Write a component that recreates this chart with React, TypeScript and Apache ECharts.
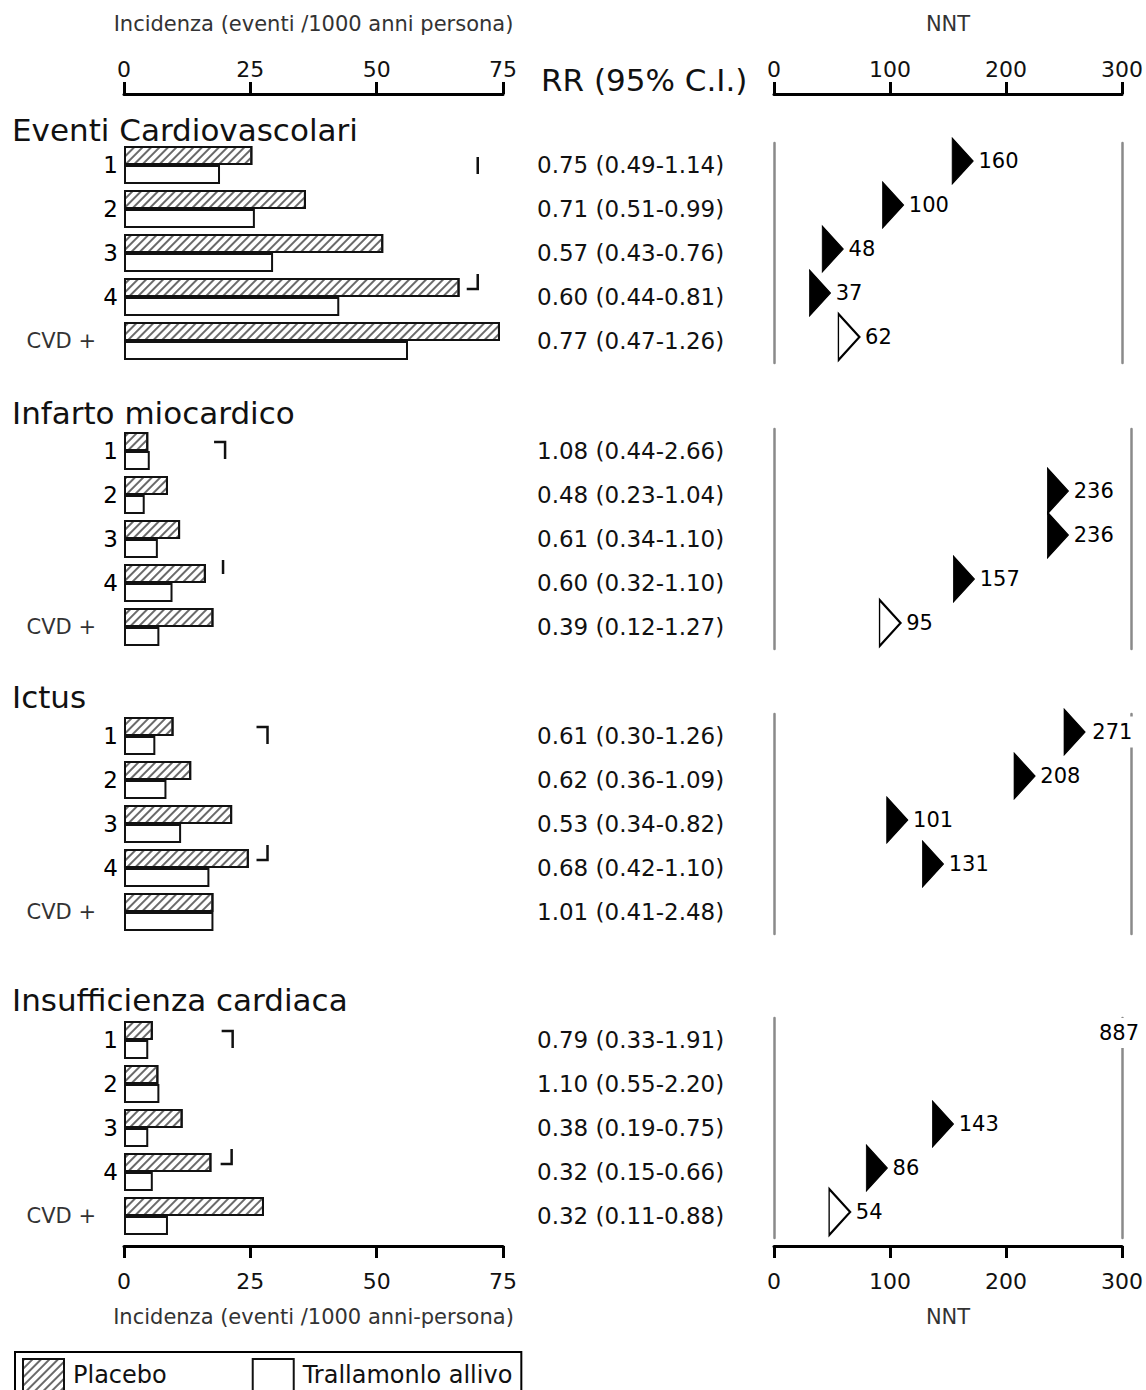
import React, { useEffect, useRef } from 'react';
import * as echarts from 'echarts';

const FONT = '"DejaVu Sans", Arial, sans-serif';

// ---------- data ----------
const groupTitles = ['Eventi Cardiovascolari', 'Infarto miocardico', 'Ictus', 'Insufficienza cardiaca'];
const rowLabels = ['1', '2', '3', '4', 'CVD +'];
const legendNames = ['Placebo', 'Trallamonlo allivo'];

const placeboCV = [25.4, 36.0, 51.3, 66.4, 74.4];
const placeboMI = [4.8, 8.7, 11.1, 16.2, 17.7];
const placeboStroke = [9.8, 13.3, 21.4, 24.7, 17.7];
const placeboHF = [5.7, 6.8, 11.6, 17.3, 27.7];

const activeCV = [19.0, 25.9, 29.5, 42.6, 56.2];
const activeMI = [5.1, 4.1, 6.7, 9.6, 7.0];
const activeStroke = [6.2, 8.4, 11.3, 16.9, 17.7];
const activeHF = [4.8, 7.0, 4.8, 5.7, 8.7];

const rrCV = ['0.75 (0.49-1.14)', '0.71 (0.51-0.99)', '0.57 (0.43-0.76)', '0.60 (0.44-0.81)', '0.77 (0.47-1.26)'];
const rrMI = ['1.08 (0.44-2.66)', '0.48 (0.23-1.04)', '0.61 (0.34-1.10)', '0.60 (0.32-1.10)', '0.39 (0.12-1.27)'];
const rrStroke = ['0.61 (0.30-1.26)', '0.62 (0.36-1.09)', '0.53 (0.34-0.82)', '0.68 (0.42-1.10)', '1.01 (0.41-2.48)'];
const rrHF = ['0.79 (0.33-1.91)', '1.10 (0.55-2.20)', '0.38 (0.19-0.75)', '0.32 (0.15-0.66)', '0.32 (0.11-0.88)'];

const nntCV = [160, 100, 48, 37, 62];
const nntMI = [null, 236, 236, 157, 95];
const nntStroke = [271, 208, 101, 131, null];
const nntHF = [887, null, 143, 86, 54];

// stray bracket marks visible in the figure: [group, row, incidence x, kind]
const strayMarks: [number, number, number, string][] = [
  [0, 0, 70, 'tick'],
  [0, 3, 70, 'cornerLow'],
  [1, 0, 20, 'cornerTop'],
  [1, 3, 19.6, 'tickHigh'],
  [2, 0, 28.4, 'cornerTop'],
  [2, 3, 28.4, 'cornerLow'],
  [3, 0, 21.5, 'cornerTop'],
  [3, 3, 21.3, 'cornerLow'],
];

const incidenceTicks = [0, 25, 50, 75];
const nntTicks = [0, 100, 200, 300];

const placebo = [placeboCV, placeboMI, placeboStroke, placeboHF];
const active = [activeCV, activeMI, activeStroke, activeHF];
const rr = [rrCV, rrMI, rrStroke, rrHF];
const nnt = [nntCV, nntMI, nntStroke, nntHF];

// ---------- layout ----------
const W = 1146;
const H = 1390;
const LEFT_X = 124;
const LEFT_W = 379;
const RIGHT_X = 774;
const RIGHT_W = 357;
const RR_X = 537;
const groupTop = [143, 429, 714, 1018];
const ROW_H = 44;
const GRID_H = ROW_H * 5;
const titleY = [130, 413, 697, 1000];
const NNT_PLOT_CAP = 250;

function buildOption() {
  const grids: any[] = [];
  const xAxes: any[] = [];
  const yAxes: any[] = [];
  const series: any[] = [];
  const graphic: any[] = [];

  const nntMax = nntTicks[nntTicks.length - 1];

  const xAxisFor = (gridIndex: number, ticks: number[], g: number, topName: string, bottomName: string) => {
    const isTop = g === 0;
    const isBottom = g === groupTitles.length - 1;
    return {
      type: 'value',
      gridIndex,
      min: ticks[0],
      max: ticks[ticks.length - 1],
      interval: ticks[1] - ticks[0],
      show: isTop || isBottom,
      position: isTop ? 'top' : 'bottom',
      offset: isTop ? 49 : 8,
      axisLine: { show: true, onZero: false, lineStyle: { color: '#000', width: 3 } },
      axisTick: { show: true, length: 12, inside: false, lineStyle: { color: '#000', width: 3 } },
      axisLabel: { show: true, margin: isTop ? 14 : 24, fontFamily: FONT, fontSize: 22, color: '#111' },
      splitLine: { show: false },
      name: isTop ? topName : bottomName,
      nameLocation: 'middle',
      nameGap: 60,
      nameTextStyle: { fontFamily: FONT, fontSize: 21, color: '#333' },
    };
  };

  groupTitles.forEach((_, g) => {
    grids.push({ left: LEFT_X, width: LEFT_W, top: groupTop[g], height: GRID_H });
  });
  groupTitles.forEach((_, g) => {
    grids.push({ left: RIGHT_X, width: RIGHT_W, top: groupTop[g], height: GRID_H });
  });

  groupTitles.forEach((_, g) => {
    xAxes[g] = xAxisFor(g, incidenceTicks, g,
      'Incidenza (eventi /1000 anni persona)', 'Incidenza (eventi /1000 anni-persona)');
    xAxes[4 + g] = xAxisFor(4 + g, nntTicks, g, 'NNT', 'NNT');

    yAxes[g] = {
      type: 'category',
      gridIndex: g,
      data: rowLabels,
      inverse: true,
      axisLine: { show: false },
      axisTick: { show: false },
      axisLabel: {
        margin: 6,
        fontFamily: FONT,
        fontSize: 23,
        color: '#000',
        formatter: (v: string) => (v === 'CVD +' ? '{c|CVD +}' : v),
        rich: { c: { fontFamily: FONT, fontSize: 21, color: '#333', padding: [0, 22, 0, 0] } },
      },
    };
    yAxes[4 + g] = {
      type: 'category',
      gridIndex: 4 + g,
      data: rr[g],
      inverse: true,
      position: 'left',
      axisLine: { show: true, lineStyle: { color: '#8a8a8a', width: 2.5 } },
      axisTick: { show: false },
      axisLabel: { margin: RIGHT_X - RR_X, align: 'left', fontFamily: FONT, fontSize: 23, color: '#111' },
    };
    yAxes[8 + g] = {
      type: 'category',
      gridIndex: 4 + g,
      data: rr[g],
      inverse: true,
      position: 'right',
      axisLine: { show: true, lineStyle: { color: '#8a8a8a', width: 2.5 } },
      axisTick: { show: false },
      axisLabel: { show: false },
    };

    series.push({
      type: 'bar',
      name: legendNames[0],
      xAxisIndex: g,
      yAxisIndex: g,
      data: placebo[g],
      barWidth: 19,
      barGap: '0%',
      itemStyle: {
        color: '#fff',
        borderColor: '#111',
        borderWidth: 2,
        decal: {
          symbol: 'rect',
          symbolSize: 1,
          dashArrayX: [1, 0],
          dashArrayY: [1.5, 3.5],
          rotation: -Math.PI / 4,
          color: '#6a6a6a',
        },
      },
    });
    series.push({
      type: 'bar',
      name: legendNames[1],
      xAxisIndex: g,
      yAxisIndex: g,
      data: active[g],
      barWidth: 19,
      barGap: '0%',
      itemStyle: { color: '#fff', borderColor: '#111', borderWidth: 2 },
    });

    const marks = strayMarks.filter((m) => m[0] === g);
    series.push({
      type: 'custom',
      xAxisIndex: g,
      yAxisIndex: g,
      silent: true,
      data: marks.map((m) => [m[2], m[1]]),
      renderItem: (params: any, api: any) => {
        const p = api.coord([api.value(0), api.value(1)]);
        const kind = marks[params.dataIndex][3];
        let pts: number[][];
        if (kind === 'tick') pts = [[p[0], p[1] - 8], [p[0], p[1] + 9]];
        else if (kind === 'tickHigh') pts = [[p[0], p[1] - 23], [p[0], p[1] - 9]];
        else if (kind === 'cornerTop') pts = [[p[0] - 11, p[1] - 9], [p[0], p[1] - 9], [p[0], p[1] + 8]];
        else pts = [[p[0], p[1] - 23], [p[0], p[1] - 8], [p[0] - 11, p[1] - 8]];
        return { type: 'polyline', shape: { points: pts }, style: { stroke: '#111', lineWidth: 2.5, fill: 'none' } };
      },
    });

    const nntData: any[] = [];
    nnt[g].forEach((v, r) => {
      if (v == null) return;
      const isCvd = r === rowLabels.length - 1;
      if (v > nntMax) {
        nntData.push({
          value: [nntMax, r, v],
          symbolSize: 0,
          label: { position: 'inside', offset: [-6, -3], backgroundColor: '#fff', padding: [9, 2, 0, 2] },
        });
      } else {
        const item: any = {
          value: [Math.min(v, NNT_PLOT_CAP), r, v],
          itemStyle: isCvd
            ? { color: '#fff', borderColor: '#000', borderWidth: 2, opacity: 1 }
            : { color: '#000', borderColor: '#000', borderWidth: 1, opacity: 1 },
        };
        if (v > NNT_PLOT_CAP) item.label = { backgroundColor: '#fff', padding: [10, 2, 0, 2] };
        nntData.push(item);
      }
    });
    series.push({
      type: 'scatter',
      xAxisIndex: 4 + g,
      yAxisIndex: 4 + g,
      symbol: 'triangle',
      symbolRotate: -90,
      symbolSize: [46, 21],
      symbolOffset: [3, -4],
      itemStyle: { opacity: 1 },
      data: nntData,
      label: {
        show: true,
        position: 'right',
        distance: 5,
        formatter: (p: any) => String(p.value[2]),
        fontFamily: FONT,
        fontSize: 21,
        color: '#000',
        opacity: 1,
      },
    });

    graphic.push({
      type: 'text',
      x: 12,
      y: titleY[g],
      style: { text: groupTitles[g], fontFamily: FONT, fontSize: 31, fill: '#111', verticalAlign: 'middle' },
    });
  });

  graphic.push({
    type: 'text',
    x: 541,
    y: 80,
    style: { text: 'RR (95% C.I.)', fontFamily: FONT, fontSize: 31, fill: '#111', verticalAlign: 'middle' },
  });

  return {
    animation: false,
    backgroundColor: '#fff',
    grid: grids,
    xAxis: xAxes,
    yAxis: yAxes,
    series,
    graphic,
    legend: {
      data: legendNames,
      left: 15,
      top: 1352,
      orient: 'horizontal',
      icon: 'rect',
      itemWidth: 41,
      itemHeight: 32,
      itemGap: 85,
      padding: [6, 9, 8, 7],
      borderColor: '#000',
      borderWidth: 2,
      selectedMode: false,
      textStyle: { fontFamily: FONT, fontSize: 24, color: '#111', padding: [0, 0, 0, 4] },
    },
  };
}

export default function App() {
  const ref = useRef<HTMLDivElement>(null);
  useEffect(() => {
    if (!ref.current) return;
    const chart = echarts.init(ref.current, null, { renderer: 'svg' });
    chart.setOption(buildOption() as any);
    return () => chart.dispose();
  }, []);
  return <div ref={ref} style={{ position: 'fixed', left: 0, top: 0, width: W, height: H, background: '#fff' }} />;
}
